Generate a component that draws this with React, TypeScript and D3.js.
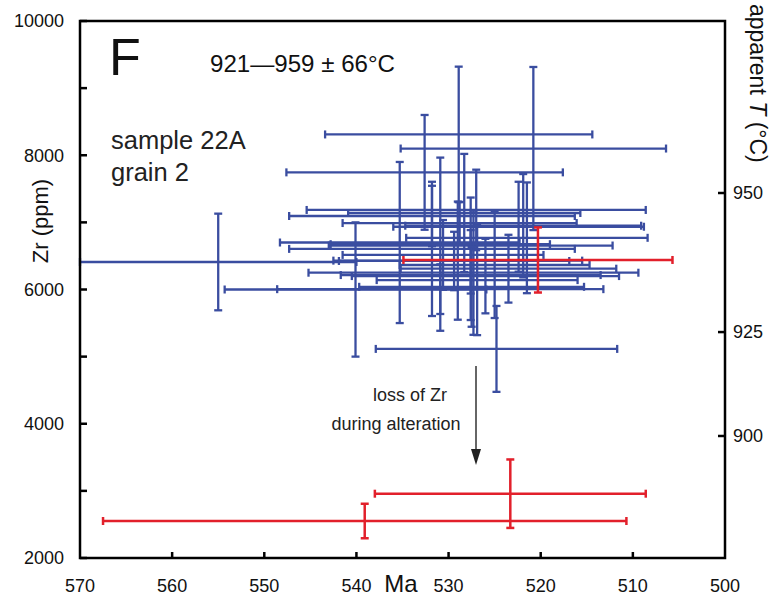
import React from 'react';
import * as d3 from 'd3';

// Blue analyses: age (Ma), age error, Zr (ppm), Zr error
const blueMa =    [528.9, 520.8, 532.6, 527.0, 528.3, 531.8, 528.8, 521.9, 522.4, 521.5, 527.6, 535.3, 531.8, 530.9, 555.0, 529.0, 529.4, 525.0, 523.5, 527.3, 526.0, 527.6, 527.5, 540.1, 530.9, 524.8, 530.6, 526.9];
const blueMaErr = [14.5, 14.4, 15.0, 18.4, 12.6, 15.5, 12.7, 12.8, 13.6, 13.1, 15.4, 13.0, 15.5, 11.9, 15.0, 13.5, 12.5, 10.3, 11.7, 17.9, 14.5, 14.1, 12.2, 14.2, 17.7, 13.1, 10.9, 10.9];
const blueZr =    [8310, 8100, 7745, 7185, 7140, 7095, 6990, 6950, 6935, 6770, 6655, 6700, 6605, 6675, 6410, 6430, 6425, 6365, 6310, 6250, 6200, 6215, 6040, 6000, 6005, 5115, 6515, 6140];
const blueZrErr = [1010, 1215, 855, 600, 880, 450, 315, 770, 670, 825, 715, 1200, 1000, 1290, 720, 880, 435, 790, 505, 925, 555, 670, 595, 1000, 370, 640, 520, 820];

// Red (altered) analyses
const redMa = [520.3, 539.1, 523.3];
const redMaErr = [14.6, 28.4, 14.7];
const redZr = [6440, 2551, 2958];
const redZrErr = [485, 257, 510];

const xTicks = [570, 560, 550, 540, 530, 520, 510, 500];
const yTicks = [2000, 3000, 4000, 5000, 6000, 7000, 8000, 9000, 10000];
const yLabels = [2000, 4000, 6000, 8000, 10000];
const tTicks = [900, 925, 950];

// Zr-in-titanite thermometer constants (log Zr = A - B/T)
const thermoA = 10.667;
const thermoB = 8312;

const BLUE = '#3a4da0';
const RED = '#e2202b';

function ErrorBar({ cx, cy, x1, x2, y1, y2, color, w }) {
  const c = 4;
  return (
    <g stroke={color} strokeWidth={w} fill="none">
      <line x1={x1} x2={x2} y1={cy} y2={cy} />
      <line x1={x1} x2={x1} y1={cy - c} y2={cy + c} />
      <line x1={x2} x2={x2} y1={cy - c} y2={cy + c} />
      <line x1={cx} x2={cx} y1={y1} y2={y2} />
      <line x1={cx - c} x2={cx + c} y1={y1} y2={y1} />
      <line x1={cx - c} x2={cx + c} y1={y2} y2={y2} />
    </g>
  );
}

export default function App() {
  const L = 80, R = 725, T = 21, B = 558;
  const x = d3.scaleLinear().domain([570, 500]).range([L, R]);
  const y = d3.scaleLinear().domain([2000, 10000]).range([B, T]);
  const tToZr = (t: number) => Math.pow(10, thermoA - thermoB / (t + 273.15));

  const bar = (ma: number, me: number, zr: number, ze: number, color: string, w: number, key: string) => (
    <ErrorBar key={key} cx={x(ma)} cy={y(zr)} x1={x(ma + me)} x2={x(ma - me)} y1={y(zr + ze)} y2={y(zr - ze)} color={color} w={w} />
  );

  const font = "'Liberation Sans', Arial, Helvetica, sans-serif";

  return (
    <svg width={773} height={597} style={{ position: 'absolute', left: 0, top: 0, background: '#fff' }} fontFamily={font}>
      {/* ticks */}
      <g stroke="#000" strokeWidth={2.5}>
        {yTicks.map(v => <line key={'yt' + v} x1={L} x2={L + 7} y1={y(v)} y2={y(v)} />)}
        {xTicks.slice(1, -1).map(v => <line key={'xt' + v} x1={x(v)} x2={x(v)} y1={B} y2={B - 6} />)}
        {tTicks.map(t => <line key={'tt' + t} x1={R} x2={R - 7} y1={y(tToZr(t))} y2={y(tToZr(t))} />)}
      </g>

      {/* data */}
      {blueMa.map((m, i) => bar(m, blueMaErr[i], blueZr[i], blueZrErr[i], BLUE, 2.3, 'b' + i))}
      {redMa.map((m, i) => bar(m, redMaErr[i], redZr[i], redZrErr[i], RED, 2.5, 'r' + i))}

      {/* frame */}
      <rect x={L} y={T} width={R - L} height={B - T} fill="none" stroke="#000" strokeWidth={2.5} />

      {/* y labels */}
      {yLabels.map(v => (
        <text key={'yl' + v} x={64} y={y(v)} dy="0.35em" textAnchor="end" fontSize={18} fill="#111">{v}</text>
      ))}
      {/* x labels */}
      {xTicks.map(v => (
        <text key={'xl' + v} x={x(v)} y={592} textAnchor="middle" fontSize={18} fill="#111">{v}</text>
      ))}
      <text x={401} y={592} textAnchor="middle" fontSize={24} fill="#111">Ma</text>

      {/* right temperature labels */}
      {tTicks.map(t => (
        <text key={'tl' + t} x={733} y={y(tToZr(t))} dy="0.35em" fontSize={18} fill="#111">{t}</text>
      ))}
      <text transform="translate(750,4) rotate(90)" fontSize={23} fill="#111">
        apparent <tspan fontStyle="italic">T</tspan> (°C)
      </text>

      {/* y axis title */}
      <text transform="translate(48,221) rotate(-90)" textAnchor="middle" fontSize={22} fill="#111">Zr (ppm)</text>

      {/* annotations */}
      <text x={109} y={75} fontSize={52} fill="#111">F</text>
      <text x={210} y={72} fontSize={23} textLength={185} lengthAdjust="spacingAndGlyphs" fill="#111">921—959 ± 66°C</text>
      <text x={111} y={149} fontSize={25.5} fill="#222">sample 22A</text>
      <text x={111} y={181} fontSize={25.5} fill="#222">grain 2</text>

      <text x={410} y={401} textAnchor="middle" fontSize={18} fill="#222">loss of Zr</text>
      <text x={396} y={430} textAnchor="middle" fontSize={18} fill="#222">during alteration</text>
      <line x1={476} x2={476} y1={366} y2={452} stroke="#333" strokeWidth={1.5} />
      <path d="M471,449 L481,449 L476,465 Z" fill="#222" />
    </svg>
  );
}
